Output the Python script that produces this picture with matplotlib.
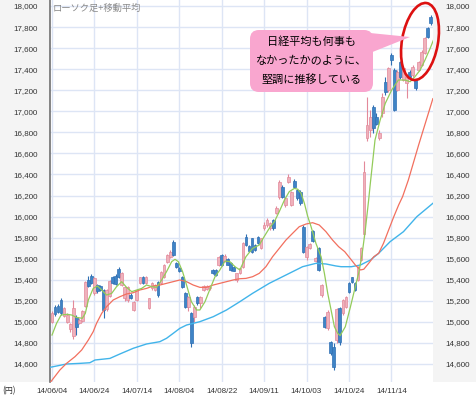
import matplotlib.pyplot as plt
from matplotlib.patches import Rectangle, Ellipse, FancyBboxPatch, Polygon

plt.rcParams["font.family"] = ["Liberation Sans", "DejaVu Sans"]
JP = ["Noto Sans CJK JP", "DejaVu Sans"]

# daily candles, index 0 = 14/06/04 (trading days)
opens = [15000, 15140, 15150, 15210, 15060, 15000, 14930, 14870, 15050, 14990,
         15010, 15150, 15400, 15440, 15270, 15350, 15340, 15300, 15120, 15250,
         15430, 15440, 15500, 15350, 15230, 15210, 15260, 15113, 15208, 15366,
         15429, 15370, 15129, 15318, 15305, 15382, 15366, 15429, 15572, 15619,
         15762, 15556, 15508, 15429, 15271, 15144, 15081, 15049, 15239, 15176,
         15303, 15310, 15320, 15493, 15490, 15540, 15635, 15580, 15600, 15560,
         15520, 15398, 15461, 15524, 15809, 15720, 15793, 15730, 15803, 15698,
         15888, 15920, 15888, 15967, 16031, 16189, 16284, 16110, 16332, 16110,
         16341, 16252, 16237, 15904, 15619, 15700, 15860, 15580, 15698, 15255,
         15049, 14938, 14812, 14765, 14830, 15130, 15081, 15144, 15366, 15423,
         15366, 15398, 15587, 15830, 16745, 16822, 17044, 16950, 16743, 16981,
         17281, 17202, 17535, 17392, 17202, 17471, 17297, 17266, 17376, 17345,
         17297, 17392, 17440, 17550, 17788, 17899]
highs = [15100, 15160, 15170, 15225, 15145, 15080, 14990, 15210, 15070, 15040,
         15110, 15390, 15440, 15450, 15430, 15360, 15350, 15310, 15310, 15400,
         15440, 15450, 15520, 15470, 15340, 15340, 15270, 15200, 15310, 15430,
         15440, 15440, 15230, 15380, 15360, 15390, 15480, 15550, 15645, 15680,
         15778, 15570, 15520, 15440, 15280, 15250, 15095, 15160, 15250, 15245,
         15350, 15350, 15345, 15500, 15500, 15625, 15645, 15640, 15610, 15570,
         15530, 15465, 15515, 15760, 15830, 15730, 15800, 15740, 15815, 15800,
         15950, 15990, 15950, 15975, 16100, 16350, 16300, 16185, 16400, 16245,
         16355, 16265, 16250, 15920, 15720, 15750, 15875, 15620, 15710, 15360,
         15060, 15110, 14820, 14800, 15130, 15140, 15215, 15250, 15375, 15430,
         15375, 15530, 15710, 16530, 17140, 17012, 17060, 16980, 16820, 17170,
         17330, 17425, 17550, 17410, 17390, 17480, 17420, 17340, 17390, 17435,
         17310, 17480, 17580, 17705, 17800, 17915]
lows = [14985, 15060, 15080, 15070, 15050, 14990, 14900, 14840, 14880, 14980,
        15000, 15140, 15330, 15360, 15260, 15270, 15290, 15040, 15100, 15240,
        15360, 15350, 15420, 15340, 15200, 15190, 15220, 15100, 15195, 15355,
        15355, 15360, 15120, 15305, 15295, 15240, 15355, 15420, 15560, 15610,
        15630, 15515, 15475, 15320, 15130, 15100, 14765, 15000, 15165, 15130,
        15295, 15300, 15305, 15450, 15435, 15530, 15530, 15570, 15540, 15480,
        15480, 15380, 15450, 15510, 15720, 15665, 15655, 15670, 15735, 15690,
        15875, 15905, 15875, 15875, 16020, 16170, 16175, 16095, 16320, 16100,
        16270, 16160, 16110, 15650, 15587, 15690, 15760, 15570, 15480, 15240,
        14940, 14925, 14690, 14543, 14800, 14780, 15070, 15130, 15275, 15370,
        15290, 15385, 15575, 15810, 16720, 16760, 16790, 16870, 16725, 16950,
        17155, 17185, 17440, 17000, 17190, 17310, 17285, 17122, 17315, 17330,
        17200, 17380, 17430, 17540, 17700, 17820]
closes = [15085, 15075, 15090, 15085, 15130, 15070, 14980, 15130, 14950, 15020,
          15100, 15380, 15340, 15370, 15420, 15290, 15300, 15110, 15300, 15390,
          15370, 15360, 15430, 15460, 15330, 15330, 15230, 15192, 15303, 15423,
          15366, 15429, 15224, 15372, 15350, 15255, 15477, 15540, 15635, 15667,
          15635, 15524, 15486, 15334, 15144, 15239, 14796, 15144, 15176, 15239,
          15341, 15340, 15335, 15461, 15445, 15619, 15540, 15630, 15540, 15493,
          15486, 15461, 15508, 15746, 15730, 15676, 15667, 15683, 15746, 15793,
          15920, 15967, 15942, 15888, 16078, 16332, 16189, 16173, 16379, 16237,
          16284, 16173, 16126, 15667, 15708, 15740, 15770, 15610, 15493, 15350,
          14954, 15097, 14701, 14575, 15120, 14810, 15208, 15239, 15287, 15382,
          15303, 15524, 15698, 16420, 16870, 16949, 16838, 16880, 16790, 17133,
          17186, 17408, 17487, 17012, 17376, 17329, 17408, 17329, 17329, 17424,
          17218, 17471, 17566, 17693, 17709, 17835]

# moving averages (index, value)
ma5_x = [0, 1.5, 3, 5, 6.5, 8, 10, 11, 12, 13.6, 15, 16.4, 18, 19.7, 21.3, 23, 24.6,
         26.3, 28, 29.6, 31.2, 33, 34.5, 36.2, 37.8, 39.5, 40.6, 41.7, 43.1, 44.4,
         46, 47.7, 48.8, 50.5, 52.1, 53.8, 55.4, 57.1, 58.7, 60.4, 62, 64, 66.2,
         68.4, 70, 71.7, 73.4, 75, 76.7, 78.3, 80, 81.1, 82.2, 83.3, 84.4, 85.5,
         87.1, 88.8, 89.9, 91, 92.1, 93.2, 94.3, 95.1, 96.8, 98.5, 100.1, 101.2,
         102.3, 103.4, 104.5, 105, 106.6, 108.3, 110, 112.1, 114.3, 116.5, 118.2,
         119.8, 121.5, 123.1, 124.8, 125.9]
ma5_y = [14875, 14986, 15065, 15072, 15065, 15043, 15034, 15081, 15208, 15318,
         15341, 15303, 15255, 15271, 15334, 15382, 15328, 15287, 15303, 15318,
         15350, 15334, 15328, 15398, 15477, 15572, 15594, 15572, 15477, 15350,
         15192, 15113, 15113, 15192, 15309, 15429, 15493, 15578, 15572, 15524,
         15493, 15619, 15698, 15730, 15809, 15888, 15952, 16047, 16157, 16237,
         16268, 16260, 16221, 16126, 16001, 15904, 15746, 15619, 15461, 15271,
         15113, 14954, 14891, 14870, 14954, 15144, 15334, 15461, 15635, 15873,
         16157, 16300, 16727, 16917, 17076, 17202, 17297, 17297, 17281, 17329,
         17392, 17487, 17598, 17677]
ma25_x = [-0.7, 2.6, 4.8, 7.6, 9.8, 12, 13.6, 14.7, 16.4, 18, 20.2, 22.4, 24.6, 26.8,
          29, 31.2, 33.4, 35.6, 37.8, 40, 42.2, 44.4, 46.6, 48.8, 51, 53.2, 55.4,
          57.6, 59.8, 62, 64, 66.2, 68.4, 70.6, 72.8, 75, 77.2, 79.4, 81.6, 83.8,
          86, 88.2, 90.4, 92.6, 94.6, 96.6, 98.8, 100.1, 101.8, 102.9, 104.5, 106.2,
          107.8, 109.4, 111.1, 112.8, 114.4, 115.7, 117.6, 121, 125.7]
ma25_y = [14420, 14543, 14606, 14670, 14733, 14828, 14907, 14986, 15081, 15144,
          15208, 15239, 15265, 15277, 15303, 15318, 15341, 15350, 15366, 15382,
          15398, 15382, 15350, 15328, 15328, 15350, 15366, 15382, 15398, 15410,
          15413, 15429, 15461, 15524, 15619, 15698, 15777, 15841, 15904, 15929,
          15942, 15920, 15857, 15777, 15714, 15667, 15588, 15540, 15493, 15500,
          15556, 15619, 15651, 15746, 15873, 15999, 16110, 16189, 16347, 16680, 17120]
ma75_x = [-0.7, 4.8, 9.2, 12.5, 14.2, 19.1, 22.4, 26.8, 31.2, 35.6, 37.8, 40, 42.2,
          44.4, 48.8, 53.2, 57.6, 62, 66.2, 71.7, 77.2, 82.7, 87.1, 90.4, 93.7, 95.4,
          98.8, 101.8, 105.1, 107.8, 111.6, 116, 120.4, 125.7]
ma75_y = [14568, 14600, 14606, 14612, 14638, 14653, 14695, 14749, 14790, 14812,
          14844, 14891, 14939, 14970, 15002, 15049, 15113, 15192, 15271, 15366,
          15445, 15524, 15556, 15550, 15531, 15524, 15524, 15540, 15588, 15651,
          15762, 15857, 15999, 16126]

tick_pos = [0, 14, 28, 42, 56, 70, 84, 98, 112]
tick_lab = ["14/06/04", "14/06/24", "14/07/14", "14/08/04", "14/08/22",
            "14/09/11", "14/10/03", "14/10/24", "14/11/14"]
y_ticks = list(range(14600, 18001, 200))

W, H = 477, 399
fig = plt.figure(figsize=(W / 100, H / 100), dpi=100)
fig.patch.set_facecolor("white")

# grey side columns
bg = fig.add_axes([0, 0, 1, 1], zorder=-5)
bg.set_xlim(0, W)
bg.set_ylim(H, 0)
bg.axis("off")
bg.add_patch(Rectangle((0, 0), 50, 382, color="#f4f4f4", lw=0))
bg.add_patch(Rectangle((433, 0), 44, 382, color="#f4f4f4", lw=0))

ax = fig.add_axes([50 / W, 17 / H, 383 / W, 382 / H])
ax.set_facecolor("white")
ax.set_xlim(-0.66, 125.74)
ax.set_ylim(14429, 18057)

for s in ["top", "right", "bottom"]:
    ax.spines[s].set_visible(False)
ax.spines["left"].set_color("#707070")
ax.spines["left"].set_linewidth(1.2)

ax.set_yticks(y_ticks)
ax.set_yticklabels([f"{v:,}" for v in y_ticks])
ax.set_xticks(tick_pos)
ax.set_xticklabels(tick_lab)
ax.tick_params(axis="y", length=0, labelsize=5.8, colors="#333333", pad=9,
               labelleft=True, labelright=True)
ax.tick_params(axis="x", length=0, labelsize=5.8, colors="#333333", pad=4)
ax.grid(True, color="#dde5f5", lw=1.0)
ax.set_axisbelow(True)

# candles
up_face, up_edge = "#efb1bb", "#e3899a"
dn_face, dn_edge = "#3f84c6", "#2f6fb3"
for i in range(len(opens)):
    o, hi, lo, c = opens[i], highs[i], lows[i], closes[i]
    if c >= o:
        fc, ec = up_face, up_edge
    else:
        fc, ec = dn_face, dn_edge
    ax.plot([i, i], [lo, hi], color=ec, lw=0.8, zorder=2, solid_capstyle="butt")
    ax.add_patch(Rectangle((i - 0.45, min(o, c)), 0.9, max(abs(c - o), 8),
                           facecolor=fc, edgecolor=ec, lw=0.5, zorder=3))

ax.plot(ma75_x, ma75_y, color="#41b4ea", lw=1.0, zorder=4)
ax.plot(ma25_x, ma25_y, color="#f26f5e", lw=0.9, zorder=4)
ax.plot(ma5_x, ma5_y, color="#93cb5a", lw=0.9, zorder=4)

# overlay in pixel coordinates for texts and the callout
ov = fig.add_axes([0, 0, 1, 1], zorder=10)
ov.set_xlim(0, W)
ov.set_ylim(H, 0)
ov.axis("off")
ov.patch.set_alpha(0)

ov.text(53, 8.5, "ローソク足+移動平均", family=JP, fontsize=6.7, color="#8a8a8a",
        va="center", ha="left")
ov.text(2, 390.5, "(円)", family=JP, fontsize=5.8, color="#333333",
        va="center", ha="left")

ov.add_patch(Ellipse((420, 41.5), 36, 78, angle=10, fill=False,
                     edgecolor="#dd1111", lw=1.9))
ov.add_patch(FancyBboxPatch((250, 30), 123, 62,
                            boxstyle="round,pad=0,rounding_size=9",
                            facecolor="#f9a6cf", edgecolor="none"))
ov.add_patch(Polygon([(370, 33), (410, 37), (370, 53)], closed=True,
                     facecolor="#f9a6cf", edgecolor="none"))
for y, line in zip([42, 61, 80], ["日経平均も何事も", "なかったかのように、", "堅調に推移している"]):
    ov.text(312, y, line, family=JP, fontsize=8, color="black",
            ha="center", va="center")

fig.savefig("out.png", dpi=100)
